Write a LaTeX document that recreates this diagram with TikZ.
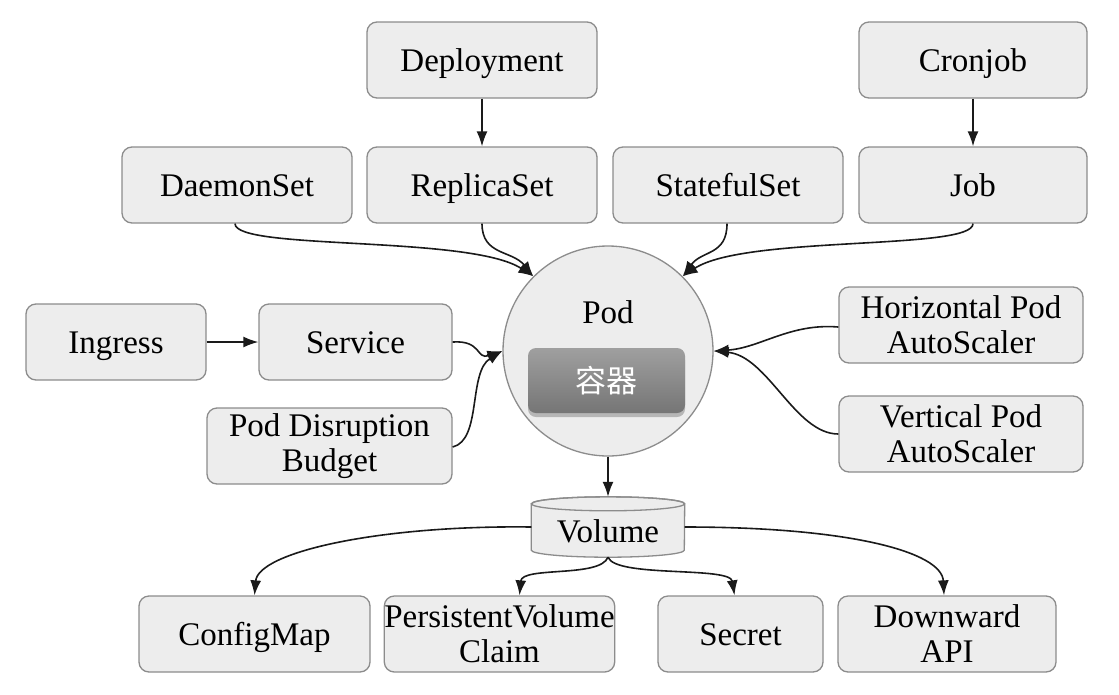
\documentclass[tikz,border=0pt]{standalone}
\usepackage{fontspec}
\setmainfont{Liberation Serif}
\newfontfamily\cjk{Noto Sans CJK SC}
\usetikzlibrary{arrows.meta,shadows,calc}
\definecolor{boxfill}{HTML}{EDEDED}
\definecolor{boxline}{HTML}{8C8C8C}
\definecolor{linecol}{HTML}{1A1A1A}
\begin{document}
\begin{tikzpicture}[x=1pt,y=-1pt,
  box/.style={draw=boxline, fill=boxfill, rounded corners=10pt, line width=1.3pt,
    align=center, font=\fontsize{33}{35}\selectfont, inner sep=0pt, minimum height=76pt},
  onebox/.style={box, text height=24pt, text depth=2pt},
  conn/.style={draw=linecol, line width=1.6pt, -{Latex[length=15pt,width=11pt]}},
  podshape/.style={circle, draw=boxline, fill=boxfill, line width=1.3pt, minimum size=210pt, inner sep=0pt},
  cbox/.style={rounded corners=8pt, top color=gray!75, bottom color=gray!92!black,
    drop shadow={shadow xshift=0pt, shadow yshift=-4pt, opacity=0.5},
    minimum width=157pt, minimum height=65pt, text=white, font=\cjk\fontsize{31}{33}\selectfont},
  lbl/.style={font=\fontsize{33}{35}\selectfont, inner sep=0pt, text height=24pt, text depth=2pt}
]
\fill[white] (0,0) rectangle (1119,694);
\useasboundingbox (0,0) rectangle (1119,694);

% top row
\node[onebox, minimum width=230pt] (dep)  at (482,60)  {Deployment};
\node[onebox, minimum width=228pt] (cron) at (973,60)  {Cronjob};
\node[onebox, minimum width=230pt] (ds)   at (237,185) {DaemonSet};
\node[onebox, minimum width=230pt] (rs)   at (482,185) {ReplicaSet};
\node[onebox, minimum width=230pt] (ss)   at (728,185) {StatefulSet};
\node[onebox, minimum width=228pt] (job)  at (973,185) {Job};

% middle
\node[onebox, minimum width=180pt] (ing) at (116,342)   {Ingress};
\node[onebox, minimum width=193pt] (svc) at (355.5,342) {Service};
\node[box, minimum width=245pt] (pdb) at (329.5,446) {Pod Disruption\\Budget};
\node[box, minimum width=244pt] (hpa) at (961,325)   {Horizontal Pod\\AutoScaler};
\node[box, minimum width=244pt] (vpa) at (961,434)   {Vertical Pod\\AutoScaler};

% pod
\node[podshape] (pod) at (608,351) {};
\node[lbl] (podlbl) at (608,312) {Pod};
\node[cbox] (ctr) at (606.5,380.5) {容器};

% volume
\node[inner sep=0pt, minimum width=153pt, minimum height=60pt] (vol) at (608,527) {};
\path[draw=boxline, fill=boxfill, line width=1.3pt]
  ($(vol.north west)+(0,7)$) -- ($(vol.south west)+(0,-7)$)
  arc[start angle=180, end angle=360, x radius=76.5pt, y radius=7pt]
  -- ($(vol.north east)+(0,7)$)
  arc[start angle=0, end angle=180, x radius=76.5pt, y radius=7pt] -- cycle;
\draw[boxline, line width=1.3pt] ($(vol.north)+(0,7)$) ellipse[x radius=76.5pt, y radius=7pt];
\node[lbl] (vollbl) at (608,531) {Volume};

% bottom row
\node[onebox, minimum width=231pt] (cm)   at (254.5,634) {ConfigMap};
\node[box, minimum width=229pt] (pvc)  at (499.5,634) {PersistentVolume\\Claim};
\node[onebox, minimum width=165pt] (sec)  at (740.5,634) {Secret};
\node[box, minimum width=218pt] (dapi) at (947,634)   {Downward\\API};

% connectors
\draw[conn] (dep) -- (rs);
\draw[conn] (cron) -- (job);
\draw[conn] (ing) -- (svc);
\draw[conn] (pod) -- (vol);

\draw[conn] ([xshift=-2pt]ds.south) .. controls +(0,27) and (470,235) .. (pod.135);
\draw[conn] (rs.south) .. controls +(0,32) and (512,250) .. (pod.135);
\draw[conn] ([xshift=-1pt]ss.south) .. controls +(0,32) and (702,250) .. (pod.45);
\draw[conn] (job.south) .. controls +(0,27) and (745,235) .. (pod.45);

\draw[conn] (svc.east) .. controls (482,340) and (476,360) .. (pod.west);
\draw[conn] ([yshift=-1pt]pdb.east) .. controls (482,440) and (468,372) .. (pod.west);
\draw[conn] ([yshift=-2pt]hpa.west) .. controls (790,323) and (760,348) .. (pod.east);
\draw[conn] (vpa.west) .. controls (795,434) and (768,356) .. (pod.east);

\draw[conn] (vol.west) .. controls (380,525) and (258,552) .. (cm.north);
\draw[conn] (vol.south) .. controls (600,578) and (522,566) .. ([xshift=20pt]pvc.north);
\draw[conn] (vol.south) .. controls (616,578) and (730,566) .. ([xshift=-6pt]sec.north);
\draw[conn] (vol.east) .. controls (850,527) and (942,552) .. ([xshift=-3pt]dapi.north);
\end{tikzpicture}
\end{document}
